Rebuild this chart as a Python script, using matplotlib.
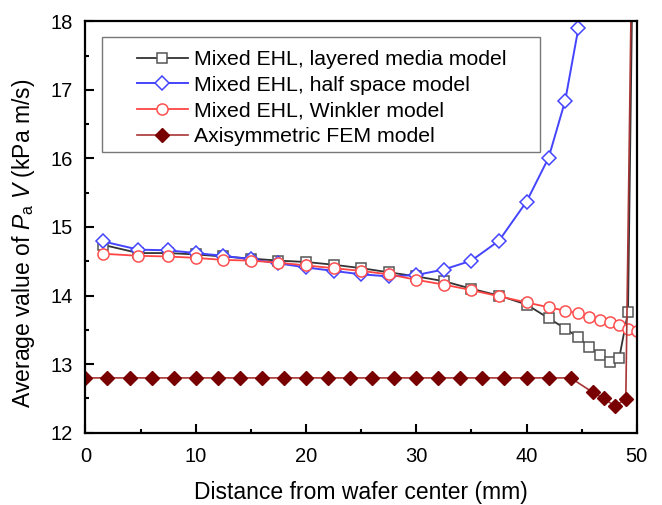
import numpy as np
import matplotlib.pyplot as plt
from matplotlib.ticker import MultipleLocator
from matplotlib.patches import Rectangle

plt.rcParams['font.family'] = ['Liberation Sans', 'DejaVu Sans']
plt.rcParams['mathtext.fontset'] = 'custom'
plt.rcParams['mathtext.it'] = 'Liberation Sans:italic'
plt.rcParams['mathtext.rm'] = 'Liberation Sans'

# radial positions (mm) of the mixed EHL results
r_ehl = [1.6, 4.8, 7.5, 10, 12.5, 15, 17.5, 20, 22.5, 25, 27.5, 30, 32.5, 35,
         37.5, 40, 42, 43.5, 44.7, 45.7, 46.7, 47.6, 48.4, 49.2, 50]

# layered media model (last value goes off the top)
pv_layered = [14.74, 14.62, 14.62, 14.60, 14.57, 14.54, 14.51, 14.49, 14.45,
              14.40, 14.34, 14.28, 14.21, 14.10, 14.00, 13.87, 13.67, 13.52,
              13.39, 13.25, 13.13, 13.03, 13.09, 13.76, 23.5]

# half space model (stops near 45 mm, leaves the frame)
r_half = r_ehl[:19] + [45.6]
pv_half = [14.79, 14.67, 14.66, 14.62, 14.58, 14.53, 14.47, 14.41, 14.36,
           14.31, 14.28, 14.30, 14.38, 14.51, 14.80, 15.37, 16.01, 16.84,
           17.90, 19.8]

# Winkler model
pv_winkler = [14.61, 14.58, 14.57, 14.55, 14.52, 14.51, 14.48, 14.44, 14.40,
              14.36, 14.31, 14.23, 14.16, 14.08, 13.99, 13.90, 13.83, 13.78,
              13.74, 13.69, 13.65, 13.61, 13.57, 13.52, 13.48]

# axisymmetric FEM
r_fem = list(range(0, 45, 2)) + [46, 47, 48, 49, 50]
pv_fem = [12.8] * 23 + [12.59, 12.50, 12.39, 12.49, 24.5]

fig = plt.figure(figsize=(6.62, 5.05), dpi=100)
ax = fig.add_axes([0.129, 0.143, 0.833, 0.815])

ax.plot(r_ehl, pv_layered, color='#333333', lw=1.3, marker='s', ms=7,
        mfc='white', mec='#555555', mew=1.1, label='Mixed EHL, layered media model')
ax.plot(r_half, pv_half, color='#4444ff', lw=1.4, marker='D', ms=7,
        mfc='white', mec='#4444ff', mew=1.1, label='Mixed EHL, half space model')
ax.plot(r_ehl, pv_winkler, color='#ff4444', lw=1.3, marker='o', ms=8,
        mfc='white', mec='#ff5050', mew=1.1, label='Mixed EHL, Winkler model')
ax.plot(r_fem, pv_fem, color='#a83535', lw=1.2, marker='D', ms=7.5,
        mfc='#780000', mec='#780000', label='Axisymmetric FEM model')

ax.set_xlim(0, 50)
ax.set_ylim(12, 18)
ax.xaxis.set_major_locator(MultipleLocator(10))
ax.xaxis.set_minor_locator(MultipleLocator(5))
ax.yaxis.set_major_locator(MultipleLocator(1))
ax.yaxis.set_minor_locator(MultipleLocator(0.5))
ax.tick_params(which='major', direction='in', length=6.7, width=1.5,
               labelsize=14.5)
ax.tick_params(axis='x', which='major', pad=10)
ax.tick_params(axis='y', which='major', pad=9)
ax.tick_params(which='minor', direction='in', length=3.2, width=1.5)
for s in ax.spines.values():
    s.set_linewidth(1.6)

ax.set_xlabel('Distance from wafer center (mm)', fontsize=16.5, labelpad=11)
ax.set_ylabel('Average value of $P_{\\mathrm{a}}$ $V$ (kPa m/s)', fontsize=16.5,
              labelpad=10)
ax.yaxis.label.set_y(0.461)

# legend frame drawn by hand, entries placed inside it
ax.add_patch(Rectangle((0.030, 0.682), 0.795, 0.279, transform=ax.transAxes,
                       fill=True, facecolor='white', edgecolor='#777777',
                       lw=1.0, zorder=4))
leg = ax.legend(loc='upper left', bbox_to_anchor=(0.0935, 0.93), fontsize=15.3,
                frameon=False, handlelength=2.4, handletextpad=0.3,
                labelspacing=0.32, borderpad=0, borderaxespad=0)
leg.set_zorder(5)

fig.savefig('out.png', dpi=100)
